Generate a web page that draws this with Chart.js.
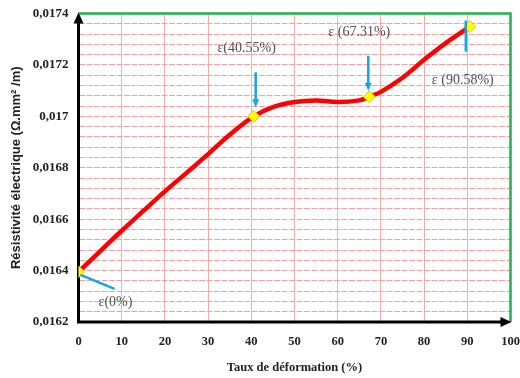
<!DOCTYPE html>
<html>
<head>
<meta charset="utf-8">
<script src="https://cdn.jsdelivr.net/npm/chart.js@4"></script>
<style>
  body { margin: 0; background: #fff; }
  #wrap { width: 520px; height: 378px; }
</style>
</head>
<body>
<div id="wrap"><canvas id="chart" width="520" height="378"></canvas></div>
<script>
// --- data ---
const strainX = [0, 5, 10, 15, 20, 25, 30, 35, 40.55, 45, 50, 55, 60, 65, 67.31, 70, 75, 80, 85, 90.58];
const resistivity = [0.016395, 0.016475, 0.016555, 0.016632, 0.016708, 0.01678, 0.016853, 0.016928, 0.017,
  0.017036, 0.017056, 0.017062, 0.017056, 0.017062, 0.017076, 0.017095, 0.01715, 0.01722, 0.017285, 0.017349];

const markerX = [0, 40.55, 67.31, 90.58];
const markerY = [0.016395, 0.017, 0.017076, 0.017349];
const markerLabels = ['ε(0%)', 'ε(40.55%)', 'ε (67.31%)', 'ε (90.58%)'];

const xTicks = [0, 10, 20, 30, 40, 50, 60, 70, 80, 90, 100];
const yMajorTicks = [0.0162, 0.0164, 0.0166, 0.0168, 0.017, 0.0172, 0.0174];

// minor horizontal lines: 5 per major step
const yAllTicks = [];
for (let i = 0; i < yMajorTicks.length - 1; i++) {
  const a = yMajorTicks[i], b = yMajorTicks[i + 1];
  for (let k = 0; k < 5; k++) yAllTicks.push(+(a + (b - a) * k / 5).toFixed(6));
}
yAllTicks.push(yMajorTicks[yMajorTicks.length - 1]);

const fmt = v => Number(v.toFixed(4)).toString().replace('.', ',');

// label / arrow placement relative to each marker (pixels)
const notes = [
  { dx: 37, dy: 30, line: [2, 3, 36, 17], head: null },
  { dx: -7, dy: -68, line: [2, -44, 2, -12], head: 'down' },
  { dx: -10, dy: -64, line: [-1, -41, -1, -9], head: 'down' },
  { dx: -7, dy: 54, line: [-4, 25, -4, -6], head: 'up' }
];

const framePlugin = {
  id: 'frame',
  beforeDatasetsDraw(chart) {
    const { ctx, chartArea: a } = chart;
    ctx.save();
    // green top / right border
    ctx.strokeStyle = '#22b14c';
    ctx.lineWidth = 2.5;
    ctx.beginPath();
    ctx.moveTo(a.left, a.top);
    ctx.lineTo(a.right, a.top);
    ctx.lineTo(a.right, a.bottom);
    ctx.stroke();
    // black axes with arrows
    ctx.strokeStyle = '#000';
    ctx.fillStyle = '#000';
    ctx.lineWidth = 3;
    ctx.beginPath();
    ctx.moveTo(a.left, a.bottom);
    ctx.lineTo(a.left, a.top + 6);
    ctx.moveTo(a.left - 1.5, a.bottom);
    ctx.lineTo(a.right - 6, a.bottom);
    ctx.stroke();
    ctx.beginPath();
    ctx.moveTo(a.left, a.top - 1);
    ctx.lineTo(a.left - 5, a.top + 10);
    ctx.lineTo(a.left + 5, a.top + 10);
    ctx.closePath();
    ctx.fill();
    ctx.beginPath();
    ctx.moveTo(a.right + 1, a.bottom);
    ctx.lineTo(a.right - 10, a.bottom - 5);
    ctx.lineTo(a.right - 10, a.bottom + 5);
    ctx.closePath();
    ctx.fill();
    ctx.restore();
  },
  afterDatasetsDraw(chart) {
    const { ctx, scales: { x, y } } = chart;
    ctx.save();
    ctx.font = '14px "Liberation Serif", serif';
    ctx.textAlign = 'center';
    ctx.textBaseline = 'middle';
    markerX.forEach((mx, i) => {
      const px = x.getPixelForValue(mx), py = y.getPixelForValue(markerY[i]);
      const n = notes[i];
      ctx.strokeStyle = '#1aa3e0';
      ctx.fillStyle = '#1aa3e0';
      ctx.lineWidth = 2.5;
      const [x1, y1, x2, y2] = n.line;
      ctx.beginPath();
      ctx.moveTo(px + x1, py + y1);
      ctx.lineTo(px + x2, py + y2);
      ctx.stroke();
      if (n.head === 'down') {
        ctx.beginPath();
        ctx.moveTo(px + x2, py + y2 + 3);
        ctx.lineTo(px + x2 - 3.5, py + y2 - 5);
        ctx.lineTo(px + x2 + 3.5, py + y2 - 5);
        ctx.closePath();
        ctx.fill();
      }
      ctx.fillStyle = '#505050';
      ctx.fillText(markerLabels[i], px + n.dx, py + n.dy);
    });
    ctx.restore();
  }
};

new Chart(document.getElementById('chart'), {
  type: 'line',
  data: {
    datasets: [
      {
        data: markerX.map((v, i) => ({ x: v, y: markerY[i] })),
        showLine: false,
        pointStyle: 'rectRot',
        pointRadius: 6,
        pointBackgroundColor: '#ffff00',
        pointBorderColor: '#d8cc00',
        pointBorderWidth: 1,
        order: 0
      },
      {
        data: strainX.map((v, i) => ({ x: v, y: resistivity[i] })),
        borderColor: '#ff0000',
        borderWidth: 4.5,
        pointRadius: 0,
        tension: 0.4,
        fill: false,
        order: 1
      }
    ]
  },
  options: {
    responsive: false,
    animation: false,
    layout: { padding: { top: 13.5, right: 9.5, left: 0, bottom: 0 } },
    plugins: { legend: { display: false }, tooltip: { enabled: false } },
    scales: {
      x: {
        type: 'linear',
        min: 0,
        max: 100,
        afterFit: s => { s.height = 56; s.paddingLeft = 0; s.paddingRight = 0; },
        afterBuildTicks: s => { s.ticks = xTicks.map(v => ({ value: v })); },
        grid: { color: 'rgba(245,120,120,0.6)', lineWidth: 1, drawTicks: false },
        border: { display: false },
        ticks: {
          padding: 12,
          color: '#222',
          font: { family: '"Liberation Serif", serif', size: 12.5, weight: 'bold' }
        },
        title: {
          display: true,
          text: 'Taux de déformation (%)',
          color: '#222',
          padding: { top: 0, bottom: 3 },
          font: { family: '"Liberation Serif", serif', size: 12.5, weight: 'bold' }
        }
      },
      y: {
        type: 'linear',
        min: 0.0162,
        max: 0.0174,
        afterFit: s => { s.width = 78.5; s.paddingTop = 0; s.paddingBottom = 0; },
        afterBuildTicks: s => { s.ticks = yAllTicks.map(v => ({ value: v })); },
        grid: { color: '#f5a0a0', lineWidth: 1, drawTicks: false },
        border: { display: false, dash: [6, 1.5] },
        ticks: {
          padding: 10,
          color: '#222',
          autoSkip: false,
          font: { family: '"Liberation Serif", serif', size: 13, weight: 'bold' },
          callback: v => yMajorTicks.some(m => Math.abs(m - v) < 1e-9) ? fmt(v) : ''
        },
        title: {
          display: true,
          text: 'Résistivité électrique (Ω.mm² /m)',
          color: '#222',
          padding: { top: 9, bottom: 0 },
          font: { family: '"Liberation Sans", Arial, sans-serif', size: 13, weight: 'bold' }
        }
      }
    }
  },
  plugins: [framePlugin]
});
</script>
</body>
</html>
